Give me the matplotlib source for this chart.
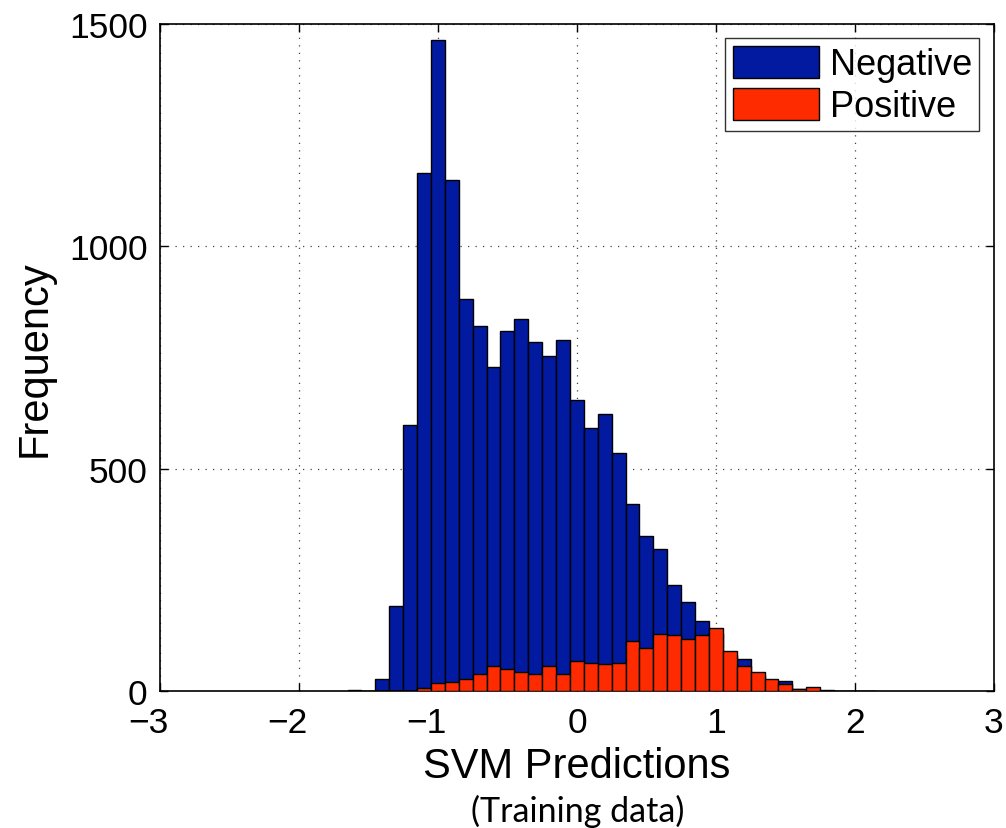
import matplotlib.pyplot as plt
from matplotlib.transforms import ScaledTranslation

# bin centres of the prediction histogram (width 0.1)
bin_centers = [-1.6, -1.5, -1.4, -1.3, -1.2, -1.1, -1.0, -0.9, -0.8, -0.7,
               -0.6, -0.5, -0.4, -0.3, -0.2, -0.1, 0.0, 0.1, 0.2, 0.3,
               0.4, 0.5, 0.6, 0.7, 0.8, 0.9, 1.0, 1.1, 1.2, 1.3,
               1.4, 1.5, 1.6, 1.7, 1.8, 1.9, 2.0, 2.1]

negative_counts = [3, 0, 27, 190, 599, 1165, 1463, 1150, 882, 821,
                   729, 810, 837, 785, 754, 790, 654, 591, 624, 536,
                   421, 349, 320, 239, 201, 157, 130, 80, 72, 35,
                   20, 22, 4, 3, 2, 0, 0, 1]

positive_counts = [0, 0, 0, 0, 0, 6, 17, 21, 27, 38,
                   56, 50, 42, 38, 57, 39, 68, 64, 61, 64,
                   112, 97, 127, 125, 116, 125, 141, 91, 56, 42,
                   27, 15, 5, 8, 0, 0, 0, 0]

x_ticks = [-3, -2, -1, 0, 1, 2, 3]
x_tick_labels = ["\u22123", "\u22122", "\u22121", "0", "1", "2", "3"]
y_ticks = [0, 500, 1000, 1500]

BLUE = "#021AA0"
RED = "#FF2B00"
BIN_WIDTH = 0.1

plt.rcParams["font.family"] = ["Liberation Sans", "DejaVu Sans"]

fig = plt.figure(figsize=(10.06, 8.29), dpi=100)
ax = fig.add_axes([0.159, 0.1653, 0.829, 0.8045])

ax.bar(bin_centers, negative_counts, width=BIN_WIDTH, color=BLUE,
       edgecolor="black", linewidth=1.0, label="Negative", zorder=2)
ax.bar(bin_centers, positive_counts, width=BIN_WIDTH, color=RED,
       edgecolor="black", linewidth=1.0, label="Positive", zorder=3)

ax.set_xlim(-3, 3)
ax.set_ylim(0, 1500)
ax.set_xticks(x_ticks)
ax.set_xticklabels(x_tick_labels)
ax.set_yticks(y_ticks)

ax.set_axisbelow(True)
ax.grid(True, linestyle=(0, (1, 5)), color="#444444", linewidth=0.9)

ax.tick_params(direction="in", length=6, width=1.0, top=True, right=True,
               labelsize=25.5)
ax.tick_params(axis="x", pad=11)
ax.tick_params(axis="y", pad=9)
for spine in ax.spines.values():
    spine.set_linewidth(1.2)

# keep the digit of negative labels over the tick, minus sign hanging left
shift = ScaledTranslation(-8 / 72, 0, fig.dpi_scale_trans)
for lab in ax.get_xticklabels():
    if lab.get_text().startswith("\u2212"):
        lab.set_transform(lab.get_transform() + shift)

ax.set_ylabel("Frequency", fontsize=30, labelpad=10)
ax.set_xlabel("SVM Predictions", fontsize=30, labelpad=5)
fig.text(0.574, 0.021, "(Training data)", fontsize=24.5,
         family=["Lato", "DejaVu Sans"], ha="center", va="center")

leg = ax.legend(loc="upper right", fontsize=26, frameon=True, fancybox=False,
                handlelength=2.4, handleheight=1.0, handletextpad=0.3,
                borderpad=0.2, labelspacing=0.15, borderaxespad=0.4)
leg.get_frame().set_edgecolor("black")
leg.get_frame().set_linewidth(1.0)

fig.savefig("out.png", dpi=100)
